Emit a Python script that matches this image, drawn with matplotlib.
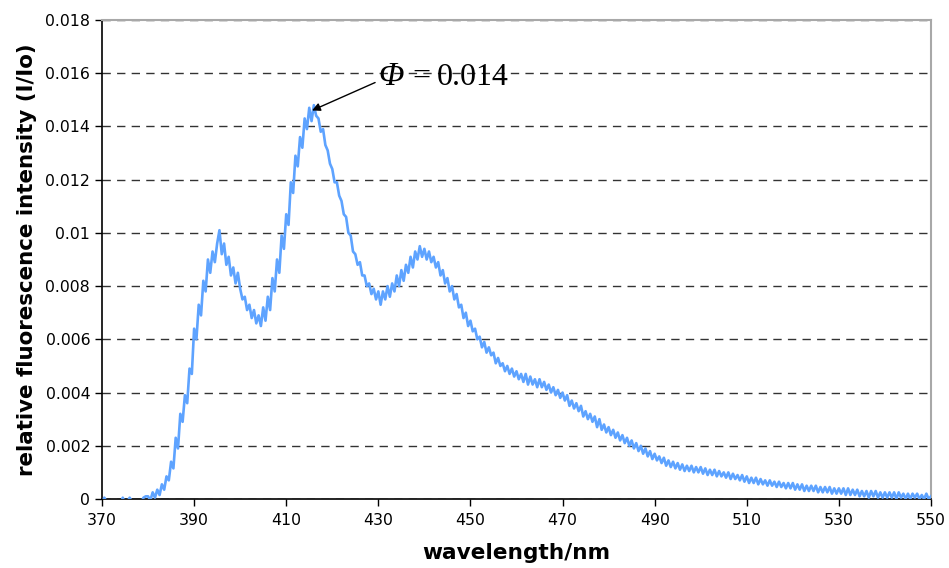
import numpy as np
import matplotlib.pyplot as plt

# fluorescence spectrum, 0.5 nm steps from 370 to 550 nm, values in units of 1e-5
wavelength = np.arange(370, 550.5, 0.5)
intensity_e5 = [
    -15, 5, -10, -25, -15, -20, -10, -15, -20, 5,              # 370
    -15, -10, 5, -10, -20, -5, -10, -15, 5, 10,                # 375
    10, -5, 25, 5, 35, 15, 55, 35, 85, 70,                     # 380
    140, 115, 230, 190, 320, 290, 390, 360, 490, 470,          # 385
    640, 600, 730, 690, 820, 780, 900, 850, 930, 890,          # 390
    960, 1010, 920, 960, 880, 910, 840, 870, 810, 850,         # 395
    790, 750, 760, 710, 730, 680, 710, 660, 690, 650,          # 400
    720, 670, 760, 710, 830, 780, 900, 850, 990, 940,          # 405
    1070, 1030, 1190, 1150, 1290, 1250, 1360, 1320, 1430, 1390,  # 410
    1470, 1420, 1480, 1440, 1430, 1380, 1390, 1330, 1310, 1260,  # 415
    1240, 1190, 1190, 1140, 1120, 1070, 1060, 1000, 990, 930,  # 420
    920, 880, 890, 840, 840, 800, 810, 770, 790, 750,          # 425
    780, 730, 780, 750, 800, 760, 810, 780, 840, 800,          # 430
    860, 820, 880, 850, 910, 870, 930, 900, 950, 910,          # 435
    940, 900, 930, 890, 910, 870, 890, 840, 860, 810,          # 440
    830, 780, 800, 750, 770, 720, 730, 680, 700, 650,          # 445
    670, 630, 640, 600, 610, 570, 590, 550, 570, 540,          # 450
    550, 510, 530, 500, 510, 480, 500, 470, 490, 460,          # 455
    480, 450, 470, 440, 470, 430, 460, 430, 450, 420,          # 460
    450, 420, 440, 410, 430, 400, 420, 390, 410, 380,          # 465
    400, 370, 390, 350, 370, 340, 360, 330, 350, 310,          # 470
    330, 300, 320, 290, 310, 270, 300, 260, 280, 250,          # 475
    270, 240, 260, 230, 250, 220, 240, 210, 230, 200,          # 480
    220, 190, 210, 180, 200, 170, 190, 160, 180, 150,          # 485
    170, 145, 160, 135, 155, 125, 145, 120, 140, 115,          # 490
    135, 110, 130, 105, 125, 105, 125, 100, 120, 100,          # 495
    120, 95, 115, 90, 110, 90, 110, 85, 105, 85,               # 500
    100, 80, 100, 75, 95, 75, 90, 70, 90, 65,                  # 505
    85, 60, 80, 60, 80, 55, 75, 55, 70, 50,                    # 510
    70, 50, 65, 45, 65, 45, 60, 40, 60, 40,                    # 515
    60, 35, 55, 35, 55, 30, 50, 30, 50, 30,                    # 520
    50, 25, 45, 25, 45, 25, 45, 20, 40, 20,                    # 525
    40, 20, 40, 15, 40, 15, 35, 15, 35, 10,                    # 530
    30, 10, 30, 5, 30, 10, 30, 5, 25, 5,                       # 535
    25, 5, 25, 5, 25, 0, 25, 5, 20, 0,                         # 540
    20, 0, 20, 5, 20, 0, 15, 0, 20, 0,                         # 545
    10,                                                        # 550
]
intensity = np.array(intensity_e5) * 1e-5

x_ticks = np.arange(370, 551, 20)
y_ticks = np.arange(0, 0.0181, 0.002)
y_ticklabels = ['0', '0.002', '0.004', '0.006', '0.008', '0.01',
                '0.012', '0.014', '0.016', '0.018']

peak_nm = 415.6
peak_val = 0.0146
quantum_yield = '0.014'

plt.rcParams['font.family'] = 'DejaVu Sans'

fig = plt.figure(figsize=(9.49, 5.68), dpi=100)
ax = fig.add_axes([0.1075, 0.1215, 0.8735, 0.8433])

ax.plot(wavelength, intensity, color='#5ea3ff', lw=1.9, zorder=3)

ax.set_xlim(370, 550)
ax.set_ylim(0, 0.018)
ax.set_xticks(x_ticks)
ax.set_yticks(y_ticks)
ax.set_yticklabels(y_ticklabels)
ax.tick_params(axis='both', labelsize=11.3, direction='out', length=5, width=1, color='black')
ax.tick_params(axis='x', pad=5)

ax.yaxis.grid(True, color='#333333', linestyle=(0, (6, 4.5)), linewidth=1)
ax.set_axisbelow(True)

for side in ['left', 'bottom']:
    ax.spines[side].set_color('black')
    ax.spines[side].set_linewidth(1.2)
for side in ['top', 'right']:
    ax.spines[side].set_color('#a8a8a8')
    ax.spines[side].set_linewidth(1.5)

ax.set_xlabel('wavelength/nm', fontsize=15.6, fontweight='bold', labelpad=11)
ax.set_ylabel('relative fluorescence intensity (I/Io)', fontsize=15.4, fontweight='bold', labelpad=6)

# arrow from the label down to the main peak
ax.annotate('', xy=(peak_nm, peak_val), xytext=(429.3, 0.01565),
            arrowprops=dict(arrowstyle='-|>', color='black', lw=1, mutation_scale=12,
                            shrinkA=0, shrinkB=0))
label_y = 0.01556
ax.text(430.0, label_y, '\u03a6', fontsize=24, family='Liberation Serif',
        style='italic', ha='left', va='baseline')
ax.text(437.4, label_y, '=', fontsize=23, family='Liberation Serif',
        ha='left', va='baseline')
ax.text(442.7, label_y, quantum_yield, fontsize=23, family='Liberation Serif',
        ha='left', va='baseline')

fig.savefig('out.png', dpi=100)
